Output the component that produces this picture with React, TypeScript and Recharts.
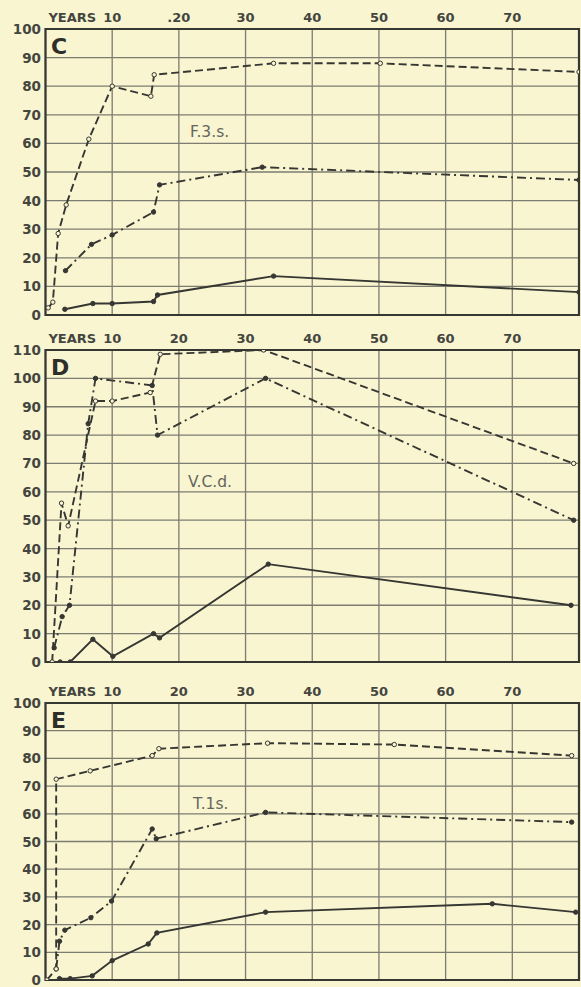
import React from "react";
import { LineChart, Line, XAxis, YAxis, CartesianGrid, ReferenceArea } from "recharts";

// age in years vs percentage, three panels
const X_TICKS = [0, 10, 20, 30, 40, 50, 60, 70, 80];
const C_X_LABELS = ["", "10", ".20", "30", "40", "50", "60", "70", ""];
const X_LABELS = ["", "10", "20", "30", "40", "50", "60", "70", ""];
const Y_TICKS_100 = [0, 10, 20, 30, 40, 50, 60, 70, 80, 90, 100];
const Y_TICKS_110 = [0, 10, 20, 30, 40, 50, 60, 70, 80, 90, 100, 110];

const cDashed = [
  { x: 0.4, y: 2.5 }, { x: 1.1, y: 4.5 }, { x: 1.9, y: 28.5 }, { x: 3.1, y: 38.5 },
  { x: 6.5, y: 61.5 }, { x: 10, y: 80 }, { x: 15.8, y: 76.5 }, { x: 16.3, y: 84 },
  { x: 34.2, y: 88 }, { x: 50.2, y: 88 }, { x: 80, y: 85 },
];
const cDashDot = [
  { x: 3, y: 15.5 }, { x: 6.9, y: 24.7 }, { x: 10, y: 28 }, { x: 16.2, y: 36 },
  { x: 17.1, y: 45.5 }, { x: 32.5, y: 51.7 }, { x: 80, y: 47.2 },
];
const cSolid = [
  { x: 2.9, y: 2 }, { x: 7.1, y: 4 }, { x: 10, y: 4 }, { x: 16.2, y: 4.7 },
  { x: 16.8, y: 7 }, { x: 34.2, y: 13.6 }, { x: 80, y: 8 },
];

const dDashed = [
  { x: 1, y: 0 }, { x: 2.4, y: 56 }, { x: 3.4, y: 48 }, { x: 7.5, y: 92 },
  { x: 10, y: 92 }, { x: 15.7, y: 95 }, { x: 17.2, y: 108.5 }, { x: 32.7, y: 110 },
  { x: 79.2, y: 70 },
];
const dDashDot = [
  { x: 1.3, y: 5 }, { x: 2.5, y: 16 }, { x: 3.6, y: 20 }, { x: 6.4, y: 84 },
  { x: 7.5, y: 100 }, { x: 16, y: 97.5 }, { x: 16.8, y: 80 }, { x: 33, y: 100 },
  { x: 79.2, y: 50 },
];
const dSolid = [
  { x: 2.2, y: 0 }, { x: 3.7, y: 0 }, { x: 7.1, y: 8 }, { x: 10.1, y: 2 },
  { x: 16.2, y: 10 }, { x: 17.1, y: 8.5 }, { x: 33.4, y: 34.5 }, { x: 78.8, y: 20 },
];

const eDashed = [
  { x: 0.2, y: 0 }, { x: 1.6, y: 4 }, { x: 1.6, y: 72.5 }, { x: 6.7, y: 75.5 },
  { x: 16, y: 81 }, { x: 17, y: 83.5 }, { x: 33.3, y: 85.5 }, { x: 52.3, y: 85 },
  { x: 78.9, y: 81 },
];
const eDashDot = [
  { x: 1.6, y: 4 }, { x: 2.1, y: 14 }, { x: 2.9, y: 18 }, { x: 6.8, y: 22.5 },
  { x: 9.9, y: 28.5 }, { x: 16, y: 54.5 }, { x: 16.6, y: 51 }, { x: 33, y: 60.5 },
  { x: 78.9, y: 57 },
];
const eSolid = [
  { x: 2.1, y: 0.5 }, { x: 3.7, y: 0.5 }, { x: 7, y: 1.5 }, { x: 10, y: 7 },
  { x: 15.4, y: 13 }, { x: 16.7, y: 17 }, { x: 33, y: 24.5 }, { x: 67, y: 27.5 },
  { x: 79.5, y: 24.5 },
];

const BG = "#f8f5d0";
const INK = "#363632";
const GRID = "#7c7c72";
const TEXT = "#45453f";
const FONT = "'DejaVu Sans', sans-serif";

const TOP_PAD = 25;
const BOTTOM_PAD = 12;

interface PanelProps {
  plotTop: number;
  plotBottom: number;
  yMax: number;
  yTicks: number[];
  xLabels: string[];
  letter: string;
  name: string;
  nameX: number;
  nameY: number;
  dashed: { x: number; y: number }[];
  dashDot: { x: number; y: number }[];
  solid: { x: number; y: number }[];
}

const Panel: React.FC<PanelProps> = (p) => {
  const h = p.plotBottom - p.plotTop + TOP_PAD + BOTTOM_PAD;

  const xTick = (props: any) => {
    const { x, payload } = props;
    const i = X_TICKS.indexOf(payload.value);
    const label = p.xLabels[i];
    if (!label) return <g />;
    return (
      <g>
        {payload.value === 10 && (
          <text x={x - 16} y={TOP_PAD - 7} textAnchor="end" fontSize={13} fontWeight="bold" fill={TEXT} fontFamily={FONT}>
            YEARS
          </text>
        )}
        <text x={x} y={TOP_PAD - 7} textAnchor="middle" fontSize={13} fontWeight="bold" fill={TEXT} fontFamily={FONT}>
          {label}
        </text>
      </g>
    );
  };

  const yTick = (props: any) => {
    const { y, payload } = props;
    return (
      <text x={41} y={y + 5} textAnchor="end" fontSize={13.5} fontWeight="bold" fill={TEXT} fontFamily={FONT}>
        {payload.value}
      </text>
    );
  };

  const openDot = { r: 2.2, fill: BG, stroke: INK, strokeWidth: 1, strokeDasharray: "0" };
  const fullDot = { r: 2.2, fill: INK, stroke: INK, strokeWidth: 1, strokeDasharray: "0" };

  return (
    <div style={{ position: "absolute", left: 0, top: p.plotTop - TOP_PAD, width: 581, height: h }}>
      <LineChart width={581} height={h} margin={{ top: 0, right: 2, bottom: BOTTOM_PAD, left: 0 }}>
        <CartesianGrid stroke={GRID} strokeWidth={1.3} />
        <XAxis
          dataKey="x"
          type="number"
          orientation="top"
          domain={[0, 80]}
          ticks={X_TICKS}
          interval={0}
          height={TOP_PAD}
          axisLine={false}
          tickLine={false}
          tick={xTick}
          allowDataOverflow
        />
        <YAxis
          type="number"
          domain={[0, p.yMax]}
          ticks={p.yTicks}
          interval={0}
          width={45.5}
          axisLine={false}
          tickLine={false}
          tick={yTick}
          allowDataOverflow
        />
        <ReferenceArea x1={0} x2={80} y1={0} y2={p.yMax} fill="none" fillOpacity={0} stroke={INK} strokeWidth={2.2} ifOverflow="visible" />
        <Line data={p.solid} dataKey="y" stroke={INK} strokeWidth={1.9} dot={fullDot} isAnimationActive={false} />
        <Line data={p.dashDot} dataKey="y" stroke={INK} strokeWidth={1.9} strokeDasharray="9 4 2 4" dot={fullDot} isAnimationActive={false} />
        <Line data={p.dashed} dataKey="y" stroke={INK} strokeWidth={1.9} strokeDasharray="8 4" dot={openDot} isAnimationActive={false} />
      </LineChart>
      <svg width={581} height={h} style={{ position: "absolute", left: 0, top: 0, pointerEvents: "none" }}>
        <text x={51} y={TOP_PAD + 25} fontSize={22} fontWeight="bold" fill="#2e2e2a" fontFamily={FONT}>
          {p.letter}
        </text>
        <text x={p.nameX} y={TOP_PAD + p.nameY} fontSize={15.5} fill="#66665e" fontFamily={FONT}>
          {p.name}
        </text>
      </svg>
    </div>
  );
};

const App: React.FC = () => {
  return (
    <div style={{ position: "absolute", left: 0, top: 0, width: 581, height: 987, background: BG, overflow: "hidden" }}>
      <Panel
        plotTop={29}
        plotBottom={315}
        yMax={100}
        yTicks={Y_TICKS_100}
        xLabels={C_X_LABELS}
        letter="C"
        name="F.3.s."
        nameX={190}
        nameY={108}
        dashed={cDashed}
        dashDot={cDashDot}
        solid={cSolid}
      />
      <Panel
        plotTop={350}
        plotBottom={662}
        yMax={110}
        yTicks={Y_TICKS_110}
        xLabels={X_LABELS}
        letter="D"
        name="V.C.d."
        nameX={188}
        nameY={137}
        dashed={dDashed}
        dashDot={dDashDot}
        solid={dSolid}
      />
      <Panel
        plotTop={703}
        plotBottom={980}
        yMax={100}
        yTicks={Y_TICKS_100}
        xLabels={X_LABELS}
        letter="E"
        name="T.1s."
        nameX={193}
        nameY={106}
        dashed={eDashed}
        dashDot={eDashDot}
        solid={eSolid}
      />
    </div>
  );
};

export default App;
